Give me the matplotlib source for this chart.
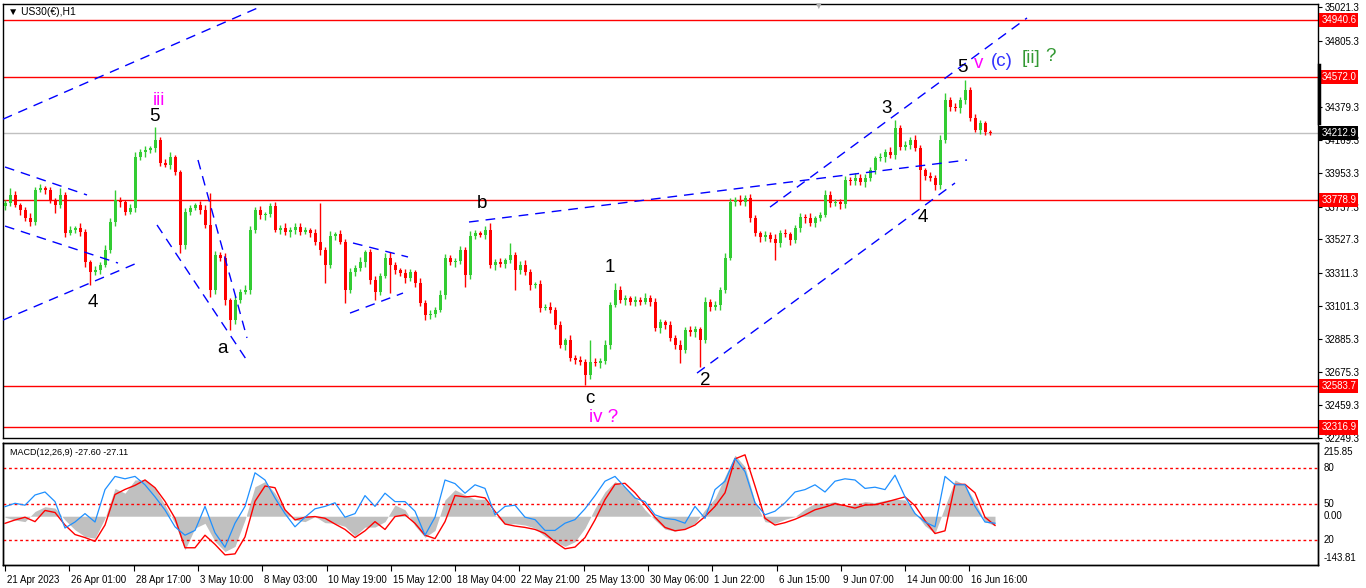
import matplotlib
matplotlib.use("Agg")
import matplotlib.pyplot as plt
from matplotlib.transforms import blended_transform_factory, offset_copy

plt.rcParams["font.family"] = ["Liberation Sans", "DejaVu Sans"]

# ---------------- data ----------------
first_open = 33740
closes = [
 33761, 33813, 33748, 33716, 33665, 33639, 33845, 33858, 33845, 33781,
 33748, 33813, 33568, 33587, 33600, 33575, 33381, 33317, 33330, 33362,
 33459, 33639, 33781, 33768, 33703, 33729, 34057, 34089, 34102, 34115,
 34167, 34019, 34006, 34057, 33961, 33491, 33703, 33729, 33748, 33716,
 33620, 33201, 33427, 33407, 33137, 33008, 33137, 33189, 33201, 33587,
 33716, 33684, 33690, 33742, 33587, 33600, 33575, 33590, 33610, 33575,
 33587, 33568, 33510, 33459, 33362, 33549, 33562, 33510, 33201, 33317,
 33343, 33381, 33446, 33266, 33189, 33291, 33407, 33362, 33330, 33311,
 33278, 33317, 33246, 33118, 33041, 33047, 33073, 33169, 33407, 33381,
 33390, 33459, 33298, 33549, 33568, 33555, 33587, 33362, 33381, 33370,
 33394, 33427, 33330, 33362, 33317, 33234, 33240, 33086, 33092, 33073,
 32976, 32847, 32880, 32764, 32751, 32738, 32654, 32738, 32731, 32745,
 32847, 33105, 33201, 33137, 33150, 33124, 33137, 33124, 33150, 33124,
 32957, 32995, 32976, 32892, 32847, 32815, 32944, 32930, 32950, 32880,
 33124, 33092, 33105, 33201, 33407, 33768, 33781, 33770, 33794, 33665,
 33568, 33542, 33555, 33530, 33504, 33568, 33560, 33523, 33600, 33671,
 33665, 33632, 33665, 33684, 33813, 33761, 33770, 33755, 33909, 33900,
 33925, 33895, 33920, 33974, 34051, 34057, 34089, 34070, 34244, 34122,
 34134, 34167, 34115, 33974, 33935, 33922, 33877, 34167, 34424, 34379,
 34373, 34424, 34488, 34308, 34231, 34276, 34218, 34213]

upper_wick = [
 20, 45, 25, 15, 20, 30, 20, 25, 15, 20,
 15, 45, 20, 25, 15, 30, 20, 15, 25, 20,
 30, 25, 64, 20, 15, 25, 30, 20, 25, 15,
 83, 20, 25, 30, 10, 10, 25, 20, 15, 25,
 30, 206, 25, 20, 30, 15, 25, 20, 30, 25,
 20, 25, 15, 19, 25, 20, 30, 15, 20, 25,
 20, 15, 25, 251, 20, 30, 15, 25, 20, 25,
 20, 30, 15, 20, 25, 20, 30, 39, 20, 15,
 25, 20, 15, 30, 20, 25, 20, 30, 25, 20,
 15, 25, 20, 30, 20, 15, 25, 45, 20, 25,
 15, 77, 20, 25, 30, 20, 15, 25, 20, 30,
 20, 25, 15, 30, 20, 25, 20, 140, 25, 20,
 30, 20, 45, 25, 20, 15, 25, 20, 30, 20,
 25, 20, 15, 25, 20, 30, 20, 25, 20, 15,
 30, 20, 25, 20, 30, 25, 20, 30, 20, 25,
 20, 15, 25, 20, 30, 20, 25, 15, 20, 25,
 20, 30, 15, 20, 32, 25, 20, 15, 25, 20,
 30, 20, 25, 20, 15, 25, 20, 30, 51, 20,
 25, 20, 30, 20, 15, 25, 20, 30, 45, 20,
 25, 20, 65, 20, 25, 20, 15, 10]

lower_wick = [
 25, 20, 15, 30, 20, 25, 20, 15, 25, 20,
 50, 20, 25, 15, 20, 25, 30, 83, 20, 25,
 15, 20, 25, 30, 20, 15, 25, 20, 30, 20,
 25, 20, 15, 25, 20, 52, 25, 20, 15, 25,
 20, 45, 25, 20, 30, 64, 25, 20, 15, 25,
 20, 25, 30, 20, 15, 25, 20, 30, 25, 20,
 15, 25, 20, 30, 116, 20, 25, 15, 83, 20,
 25, 20, 30, 25, 52, 20, 15, 180, 25, 20,
 30, 20, 25, 20, 33, 25, 20, 15, 25, 20,
 30, 20, 77, 25, 20, 15, 25, 20, 30, 20,
 25, 20, 129, 25, 20, 30, 20, 25, 15, 20,
 25, 20, 30, 20, 25, 20, 64, 25, 20, 30,
 20, 25, 15, 20, 30, 20, 25, 20, 15, 25,
 20, 30, 25, 20, 25, 84, 20, 25, 30, 174,
 20, 25, 20, 30, 20, 15, 25, 20, 30, 25,
 20, 30, 25, 20, 110, 25, 20, 30, 20, 25,
 30, 20, 25, 20, 15, 25, 20, 30, 25, 20,
 25, 20, 30, 15, 25, 20, 30, 20, 25, 20,
 20, 25, 20, 193, 25, 20, 30, 25, 20, 25,
 20, 30, 25, 20, 15, 25, 20, 15]

macd_hist = [
 -3, -11, -16, 14, 28, 24, -11, -40, -60, -65,
 -6, 82, 68, 107, 107, 82, 33, -21, -99, -35,
 -21, -74, -104, -89, -11, 87, 102, 68, 19, -11,
 -16, -1, -19, -21, -30, -58, -32, -32, -16, 33,
 19, -28, -62, -42, 48, 78, 63, 50, 50, 4,
 -24, -22, -26, -35, -60, -75, -89, -75, -35, 23,
 72, 102, 87, 58, 19, -11, -38, -44, -36, -21,
 19, 53, 117, 180, 146, 43, -16, -21, -9, -1,
 21, 38, 38, 43, 28, 35, 43, 40, 47, 50,
 48, 11, -28, -50, 28, 107, 92, 43, -16, -27.6]

macd_signal = [
 -21, -11, -3, -16, 17, 11, -26, -54, -63, -74,
 -26, 64, 79, 91, 107, 84, 44, -6, -93, -93,
 -56, -83, -114, -111, -61, 44, 89, 84, 19, -11,
 -3, -1, -6, -23, -39, -63, -43, -16, -39, -1,
 4, -21, -56, -66, -16, 61, 57, 59, 54, 14,
 -23, -29, -33, -39, -51, -76, -96, -91, -63, -11,
 49, 94, 97, 69, 34, -3, -33, -43, -39, -26,
 -1, 29, 69, 169, 181, 89, -6, -26, -19, -9,
 4, 19, 27, 37, 31, 24, 33, 34, 41, 49,
 57, 31, -13, -51, -43, 94, 94, 69, -3, -27.11]

stoch_line = [
 47.8, 50.6, 49, 57.5, 60, 52, 30, 35, 42, 35,
 62, 73, 71, 73, 66, 56, 45, 31, 24, 28,
 48, 26, 14, 34, 48, 76, 70, 55, 42, 31,
 39, 46, 48, 51, 39, 42, 57, 48, 59, 52,
 52, 44, 24, 39, 70, 67, 59, 66, 63, 41,
 48, 49, 39, 37, 28, 28, 34, 37, 46, 57,
 69, 73, 64, 55, 52, 41, 38, 37, 34, 48,
 38, 62, 69, 88, 77, 51, 41, 44, 51, 60,
 62, 66, 60, 69, 71, 70, 63, 64, 62, 74,
 56, 42, 35, 31, 73, 66, 66, 48, 35, 34]

time_labels = ["21 Apr 2023", "26 Apr 01:00", "28 Apr 17:00", "3 May 10:00",
               "8 May 03:00", "10 May 19:00", "15 May 12:00", "18 May 04:00",
               "22 May 21:00", "25 May 13:00", "30 May 06:00", "1 Jun 22:00",
               "6 Jun 15:00", "9 Jun 07:00", "14 Jun 00:00", "16 Jun 16:00"]
price_ticks = [35021.3, 34805.3, 34379.3, 34169.3, 33953.3, 33737.3, 33527.3,
               33311.3, 33101.3, 32885.3, 32675.3, 32459.3, 32249.3]
red_levels = [34940.6, 34572.0, 33778.9, 32583.7, 32316.9]
bid_price = 34212.9

# trend lines (bar index, price)
trend_lines = [
    ((-0.4, 34301), (51.0, 35023)),
    ((-0.4, 33008), (26.4, 33375)),
    ((0.0, 33993), (16.4, 33813)),
    ((0.0, 33613), (22.6, 33375)),
    ((38.6, 34038), (48.4, 32893)),
    ((30.4, 33620), (48.6, 32738)),
    ((69.6, 33504), (80.6, 33414)),
    ((69.0, 33053), (79.6, 33182)),
    ((92.8, 33639), (192.4, 34038)),
    ((138.4, 32667), (190.0, 33890)),
    ((153.0, 33735), (204.4, 34952)),
]

# wave labels (text, bar index, price, colour)
wave_labels = [
    ("iii", 30.8, 34418, "#FF00FF"),
    ("5", 29.8, 34318, "black"),
    ("4", 17.6, 33124, "black"),
    ("a", 43.6, 32828, "black"),
    ("b", 95.4, 33755, "black"),
    ("1", 121.0, 33349, "black"),
    ("c", 117.0, 32506, "black"),
    ("iv ?", 119.8, 32384, "#FF00FF"),
    ("2", 140.0, 32622, "black"),
    ("3", 176.4, 34372, "black"),
    ("4", 183.6, 33665, "black"),
    ("5", 191.4, 34636, "black"),
    ("v", 194.8, 34662, "#FF00FF"),
    ("(c)", 199.4, 34675, "#3333FF"),
    ("[ii]", 205.2, 34694, "#339933"),
    ("?", 209.0, 34701, "#339933"),
]

# ---------------- layout ----------------
W, H = 1366, 588
fig = plt.figure(figsize=(W / 100, H / 100), dpi=100)
fig.patch.set_facecolor("white")


def rect(x0, y0, x1, y1):
    return [x0 / W, 1 - y1 / H, (x1 - x0) / W, (y1 - y0) / H]


ax = fig.add_axes(rect(3, 4, 1318, 438))
axm = fig.add_axes(rect(3, 443, 1318, 565))

XL = (-0.4, 262.6)
GREEN = "#33CC33"
RED = "#FF0000"

# ---------------- candles ----------------
n = len(closes)
opens = [first_open] + closes[:-1]
idx = list(range(n))
highs = [max(o, c) + u for o, c, u in zip(opens, closes, upper_wick)]
lows = [min(o, c) - l for o, c, l in zip(opens, closes, lower_wick)]
cols = [GREEN if c >= o else RED for o, c in zip(opens, closes)]
bottoms = [min(o, c) for o, c in zip(opens, closes)]
heights = [max(abs(c - o), 4) for o, c in zip(opens, closes)]

for lvl in red_levels:
    ax.axhline(lvl, color=RED, lw=1, zorder=1)
ax.axhline(bid_price, color="#C0C0C0", lw=1, zorder=1)

ax.vlines(idx, lows, highs, colors=cols, lw=1, zorder=3)
ax.bar(idx, heights, bottom=bottoms, width=0.6, color=cols, lw=0, zorder=3)

for (x0, y0), (x1, y1) in trend_lines:
    ax.plot([x0, x1], [y0, y1], color="#0000FF", lw=1, ls=(0, (7, 5)),
            zorder=4, clip_on=True)

for txt, xi, yp, colr in wave_labels:
    ax.text(xi, yp, txt, color=colr, fontsize=13.5, ha="center", va="center",
            zorder=6)

ax.set_xlim(*XL)
ax.set_ylim(32249.3, 35041.8)
ax.set_xticks([])
ax.yaxis.tick_right()
ax.set_yticks(price_ticks)
ax.set_yticklabels([f"{p:.1f}" for p in price_ticks])
ax.tick_params(axis="y", labelsize=7, length=3, pad=2, colors="black")
for s in ax.spines.values():
    s.set_color("black")
    s.set_linewidth(1)

trans_r = blended_transform_factory(ax.transAxes, ax.transData)
for lvl in red_levels:
    ax.text(1.0025, lvl, f"{lvl:.1f}", transform=trans_r, ha="left",
            va="center", fontsize=7, color="white", zorder=10, clip_on=False,
            bbox=dict(facecolor=RED, edgecolor="none", pad=1.5))
ax.text(1.0025, bid_price, f"{bid_price:.1f}", transform=trans_r, ha="left",
        va="center", fontsize=7, color="white", zorder=10, clip_on=False,
        bbox=dict(facecolor="black", edgecolor="none", pad=1.5))

ax.text(0.004, 0.982, "\u25BC US30(\u20AC),H1", transform=ax.transAxes,
        ha="left", va="center", fontsize=7.5, color="black")
# chart shift marker and price-scale mark
fig.text(818 / W, 1 - 6 / H, "\u25BC", color="#B0B0B0", fontsize=7,
         ha="center", va="center")
fig.add_artist(plt.Line2D([1318.5 / W, 1318.5 / W], [1 - 65 / H, 1 - 123 / H],
                          color="black", lw=2.5))

# ---------------- MACD panel ----------------
mx = [2 * k for k in range(len(macd_hist))]
axm.fill_between(mx, macd_hist, 0, color="#C0C0C0", lw=0, zorder=1)
axm.plot(mx, macd_signal, color=RED, lw=1, zorder=3)
axm.set_ylim(-143.81, 215.85)
axm.set_xlim(*XL)

axs = axm.twinx()
axs.set_ylim(-0.83, 100.83)
for lvl in (80, 50, 20):
    axs.axhline(lvl, color=RED, lw=1, ls=(0, (2, 2)), zorder=2)
axs.plot(mx, stoch_line, color="#1E90FF", lw=0.9, zorder=4)
axs.set_yticks([])
axs.set_xlim(*XL)

axm.set_yticks([])
tick_pos = [j * 12.86 for j in range(len(time_labels))]
axm.set_xticks(tick_pos)
axm.set_xticklabels(time_labels)
axm.tick_params(axis="x", labelsize=7, length=4, pad=3, direction="out")
for lbl in axm.get_xticklabels():
    lbl.set_ha("left")
    lbl.set_transform(offset_copy(lbl.get_transform(), fig=fig, x=2, y=0,
                                  units="dots"))
for a in (axm, axs):
    for s in a.spines.values():
        s.set_color("black")
        s.set_linewidth(1)

trm = blended_transform_factory(axm.transAxes, axm.transData)
trs = blended_transform_factory(axs.transAxes, axs.transData)
axm.text(1.004, 189, "215.85", transform=trm, ha="left", va="center",
         fontsize=7, clip_on=False)
axm.text(1.004, 0, "0.00", transform=trm, ha="left", va="center",
         fontsize=7, clip_on=False)
axm.text(1.004, -124, "-143.81", transform=trm, ha="left", va="center",
         fontsize=7, clip_on=False)
for lvl in (80, 50, 20):
    axs.text(1.004, lvl, str(lvl), transform=trs, ha="left", va="center",
             fontsize=7, clip_on=False)

axm.text(0.0054, 0.92, "MACD(12,26,9) -27.60 -27.11", transform=axm.transAxes,
         ha="left", va="center", fontsize=6.5, color="black", zorder=6)

fig.savefig("out.png", dpi=100, facecolor="white")
